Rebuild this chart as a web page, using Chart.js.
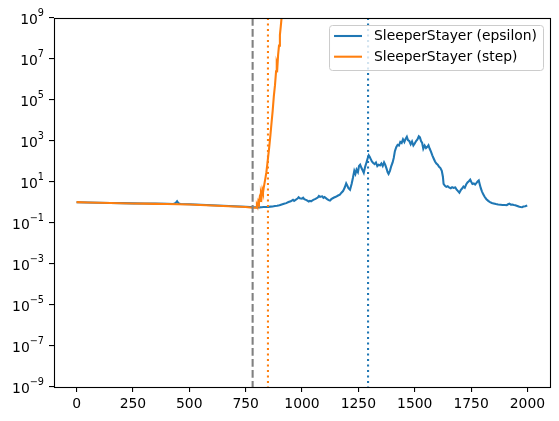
<!DOCTYPE html>
<html>
<head>
<meta charset="utf-8">
<title>SleeperStayer</title>
<script src="https://cdn.jsdelivr.net/npm/chart.js"></script>
<style>
    body { margin: 0; background: #fff; }
    #wrap { width: 559px; height: 421px; }
</style>
</head>
<body>
<div id="wrap"><canvas id="lossChart" width="559" height="421"></canvas></div>
<script>
// Data
const blueSteps = [
    0, 50, 100, 150, 200, 250, 300, 350, 400, 430, 440, 446, 452, 460, 500, 550, 600, 650, 700, 750, 790,
    800, 810, 820, 830, 840, 850, 860, 870, 880, 890, 900, 910, 920, 930, 940, 950, 960, 965, 970, 980, 985, 990,
    1000, 1005, 1010, 1020, 1030, 1035, 1040, 1050, 1060, 1070, 1075, 1080, 1090, 1095, 1100, 1110, 1118, 1124,
    1130, 1140, 1150, 1160, 1168, 1175, 1182, 1190, 1196, 1200, 1206, 1213, 1220, 1226, 1232, 1237, 1242, 1248,
    1253, 1258, 1264, 1270, 1274, 1280, 1286, 1291, 1296, 1300, 1305, 1310, 1316, 1322, 1328, 1334, 1340, 1346,
    1352, 1358, 1364, 1369, 1375, 1380, 1384, 1390, 1396, 1402, 1407, 1412, 1418, 1424, 1430, 1436, 1442, 1448,
    1454, 1460, 1465, 1470, 1476, 1482, 1488, 1494, 1500, 1506, 1512, 1518, 1523, 1528, 1533, 1538, 1544, 1550,
    1556, 1561, 1566, 1572, 1578, 1584, 1590, 1596, 1602, 1608, 1614, 1620, 1625, 1628, 1634, 1640, 1646, 1652,
    1660, 1666, 1672, 1680, 1686, 1692, 1698, 1704, 1710, 1716, 1722, 1728, 1734, 1740, 1746, 1751, 1756, 1762,
    1768, 1774, 1780, 1784, 1788, 1793, 1798, 1804, 1810, 1818, 1826, 1834, 1842, 1850, 1860, 1870, 1880, 1890,
    1900, 1908, 1914, 1920, 1926, 1932, 1940, 1946, 1952, 1958, 1964, 1970, 1976, 1982, 1990, 1999
];
const blueValues = [
    1.03, 1.0, 0.98, 0.95, 0.93, 0.91, 0.89, 0.88, 0.86, 0.85, 0.95, 1.15, 0.92, 0.85, 0.82, 0.78, 0.74, 0.7, 0.66, 0.62, 0.59,
    0.58, 0.58, 0.59, 0.6, 0.6, 0.61, 0.63, 0.64, 0.67, 0.69, 0.74, 0.8, 0.86, 0.93, 1.05, 1.15, 1.35, 1.2, 1.3, 1.55, 1.8, 1.6,
    1.55, 1.7, 1.45, 1.3, 1.12, 1.2, 1.15, 1.35, 1.5, 1.75, 2.1, 1.9, 2.0, 1.7, 1.85, 1.5, 1.3, 1.25,
    1.45, 1.7, 1.9, 2.2, 2.4, 3.0, 3.6, 5.5, 8.5, 7, 5, 4.2, 8, 16, 35, 25, 40, 30,
    60, 70, 48, 35, 28, 55, 90, 140, 200, 170, 130, 100, 85, 75, 90, 60, 70, 65,
    80, 60, 90, 70, 45, 30, 25, 35, 60, 90, 150, 320, 500, 650, 600, 900, 800, 1200,
    900, 1300, 1600, 1100, 1000, 700, 950, 600, 750, 1000, 1200, 1700, 1500, 1000, 800, 420, 600, 450,
    520, 620, 430, 300, 200, 140, 100, 80, 70, 55, 48, 35, 18, 8, 6.5, 5.8, 6.2, 5.5,
    5.0, 5.6, 5.2, 5.4, 4.2, 3.6, 3.0, 4.0, 4.8, 6.0, 5.2, 7.5, 9.5, 11, 13, 10, 8, 8.5,
    7.5, 9, 11, 12, 8, 5, 3.5, 2.5, 1.9, 1.45, 1.2, 1.05, 0.95, 0.9, 0.84, 0.8, 0.78, 0.76,
    0.75, 0.74, 0.82, 0.87, 0.78, 0.8, 0.76, 0.74, 0.7, 0.66, 0.62, 0.6, 0.59, 0.64, 0.66, 0.72
];
const orangeSteps = [
    0, 50, 100, 150, 200, 250, 300, 350, 400, 450, 500, 550, 600, 650, 700, 750, 780, 796,
    800, 803, 806, 809, 812, 815, 818, 821, 824, 827, 830, 834, 838, 842, 846, 850, 855, 860,
    865, 870, 875, 880, 885, 888, 891, 894, 898, 902, 906, 910, 915, 920, 925
];
const orangeValues = [
    1.04, 1.0, 0.97, 0.94, 0.92, 0.9, 0.88, 0.86, 0.84, 0.82, 0.8, 0.76, 0.72, 0.68, 0.64, 0.6, 0.56, 0.55,
    0.75, 0.62, 1.1, 0.9, 1.6, 1.2, 2.6, 1.9, 4.0, 3.0, 5.0, 9, 16, 30, 70, 180, 550, 2000,
    8000, 3e4, 1.5e5, 5e5, 2.5e6, 6e6, 4.5e6, 1.6e7, 4.5e7, 1.5e8, 4e8, 1.2e9, 5e9, 2e10, 8e10
];
const seriesLabels = ['SleeperStayer (epsilon)', 'SleeperStayer (step)'];

// Vertical marker lines (step positions)
const markerSteps = [781, 849, 1293];

// Axis ticks
const xTicks = [0, 250, 500, 750, 1000, 1250, 1500, 1750, 2000];
const yTicks = [1e-9, 1e-7, 1e-5, 1e-3, 1e-1, 1e1, 1e3, 1e5, 1e7, 1e9];

const BLUE = '#1f77b4';
const ORANGE = '#ff7f0e';
const FONT = "'DejaVu Sans', sans-serif";
const FS = 13.9;      // 10pt at 100 dpi
const FS_SUP = 9.7;   // mathtext superscript
const LW = 2.08;      // 1.5pt line

const markerStyles = [
    { color: '#808080', dash: [7.7, 3.3] },
    { color: ORANGE, dash: [2.1, 3.4] },
    { color: BLUE, dash: [2.1, 3.4] }
];

function toPoints(steps, values) {
    return steps.map((s, i) => ({ x: s, y: values[i] }));
}

// Draws marker lines, frame, log tick labels and legend
const overlayPlugin = {
    id: 'overlay',
    afterDatasetsDraw(chart) {
        const ctx = chart.ctx;
        const a = chart.chartArea;
        const xs = chart.scales.x;
        const ys = chart.scales.y;

        // marker lines
        ctx.save();
        ctx.beginPath();
        ctx.rect(a.left, a.top, a.right - a.left, a.bottom - a.top);
        ctx.clip();
        ctx.lineWidth = LW;
        markerSteps.forEach((s, i) => {
            const px = xs.getPixelForValue(s);
            ctx.strokeStyle = markerStyles[i].color;
            ctx.setLineDash(markerStyles[i].dash);
            ctx.beginPath();
            ctx.moveTo(px, a.top);
            ctx.lineTo(px, a.bottom);
            ctx.stroke();
        });
        ctx.restore();

        // frame
        ctx.save();
        ctx.strokeStyle = '#000';
        ctx.lineWidth = 1.1;
        ctx.strokeRect(a.left + 0.5, a.top + 0.5, a.right - a.left, a.bottom - a.top);
        ctx.restore();

        // y tick labels as 10^n
        ctx.save();
        ctx.fillStyle = '#000';
        ctx.textBaseline = 'alphabetic';
        ctx.textAlign = 'left';
        ys.ticks.forEach(t => {
            const py = ys.getPixelForValue(t.value);
            const e = Math.round(Math.log10(t.value));
            const sup = (e < 0 ? '\u2212' : '') + Math.abs(e);
            ctx.font = FS_SUP + 'px ' + FONT;
            const wSup = ctx.measureText(sup).width;
            ctx.font = FS + 'px ' + FONT;
            const wBase = ctx.measureText('10').width;
            const right = a.left - 10;
            ctx.fillText('10', right - wSup - wBase, py + 5.8);
            ctx.font = FS_SUP + 'px ' + FONT;
            ctx.fillText(sup, right - wSup, py - 2);
        });
        ctx.restore();

        // legend
        ctx.save();
        ctx.font = FS + 'px ' + FONT;
        const textW = Math.max(...seriesLabels.map(l => ctx.measureText(l).width));
        const boxW = 45 + textW + 6;
        const boxH = 45;
        const bx = a.right - 7 - boxW;
        const by = a.top + 7;
        ctx.globalAlpha = 0.8;
        ctx.fillStyle = '#fff';
        ctx.beginPath();
        ctx.roundRect(bx, by, boxW, boxH, 3);
        ctx.fill();
        ctx.globalAlpha = 1;
        ctx.strokeStyle = '#cccccc';
        ctx.lineWidth = 1;
        ctx.beginPath();
        ctx.roundRect(bx + 0.5, by + 0.5, boxW, boxH, 3);
        ctx.stroke();
        const colors = [BLUE, ORANGE];
        seriesLabels.forEach((label, i) => {
            const ry = by + 11 + i * 20.7;
            ctx.strokeStyle = colors[i];
            ctx.lineWidth = LW;
            ctx.beginPath();
            ctx.moveTo(bx + 5, ry);
            ctx.lineTo(bx + 33, ry);
            ctx.stroke();
            ctx.fillStyle = '#000';
            ctx.textAlign = 'left';
            ctx.textBaseline = 'middle';
            ctx.fillText(label, bx + 45, ry + 0.5);
        });
        ctx.restore();
    }
};

const ctx = document.getElementById('lossChart').getContext('2d');
new Chart(ctx, {
    type: 'line',
    data: {
        datasets: [
            {
                label: seriesLabels[0],
                data: toPoints(blueSteps, blueValues),
                borderColor: BLUE,
                borderWidth: LW,
                pointRadius: 0,
                tension: 0,
                fill: false,
                order: 1
            },
            {
                label: seriesLabels[1],
                data: toPoints(orangeSteps, orangeValues),
                borderColor: ORANGE,
                borderWidth: LW,
                pointRadius: 0,
                tension: 0,
                fill: false,
                order: 0
            }
        ]
    },
    options: {
        responsive: false,
        animation: false,
        devicePixelRatio: 1,
        layout: { padding: { left: 1, right: 9, top: 18, bottom: 0 } },
        plugins: {
            legend: { display: false },
            tooltip: { enabled: false }
        },
        scales: {
            x: {
                type: 'linear',
                min: -100,
                max: 2100,
                afterBuildTicks: scale => { scale.ticks = xTicks.map(v => ({ value: v })); },
                afterFit: scale => { scale.height = 34; },
                border: { display: false },
                grid: { drawOnChartArea: false, tickLength: 5, tickColor: '#000', lineWidth: 1.1 },
                ticks: {
                    autoSkip: false,
                    maxRotation: 0,
                    padding: 4,
                    color: '#000',
                    font: { family: FONT, size: FS },
                    callback: v => String(v)
                }
            },
            y: {
                type: 'logarithmic',
                min: 1e-9,
                max: 1e9,
                afterBuildTicks: scale => { scale.ticks = yTicks.map(v => ({ value: v })); },
                afterFit: scale => { scale.width = 53; },
                border: { display: false },
                grid: { drawOnChartArea: false, tickLength: 5, tickColor: '#000', lineWidth: 1.1 },
                ticks: {
                    autoSkip: false,
                    callback: () => ''
                }
            }
        }
    },
    plugins: [overlayPlugin]
});
</script>
</body>
</html>
